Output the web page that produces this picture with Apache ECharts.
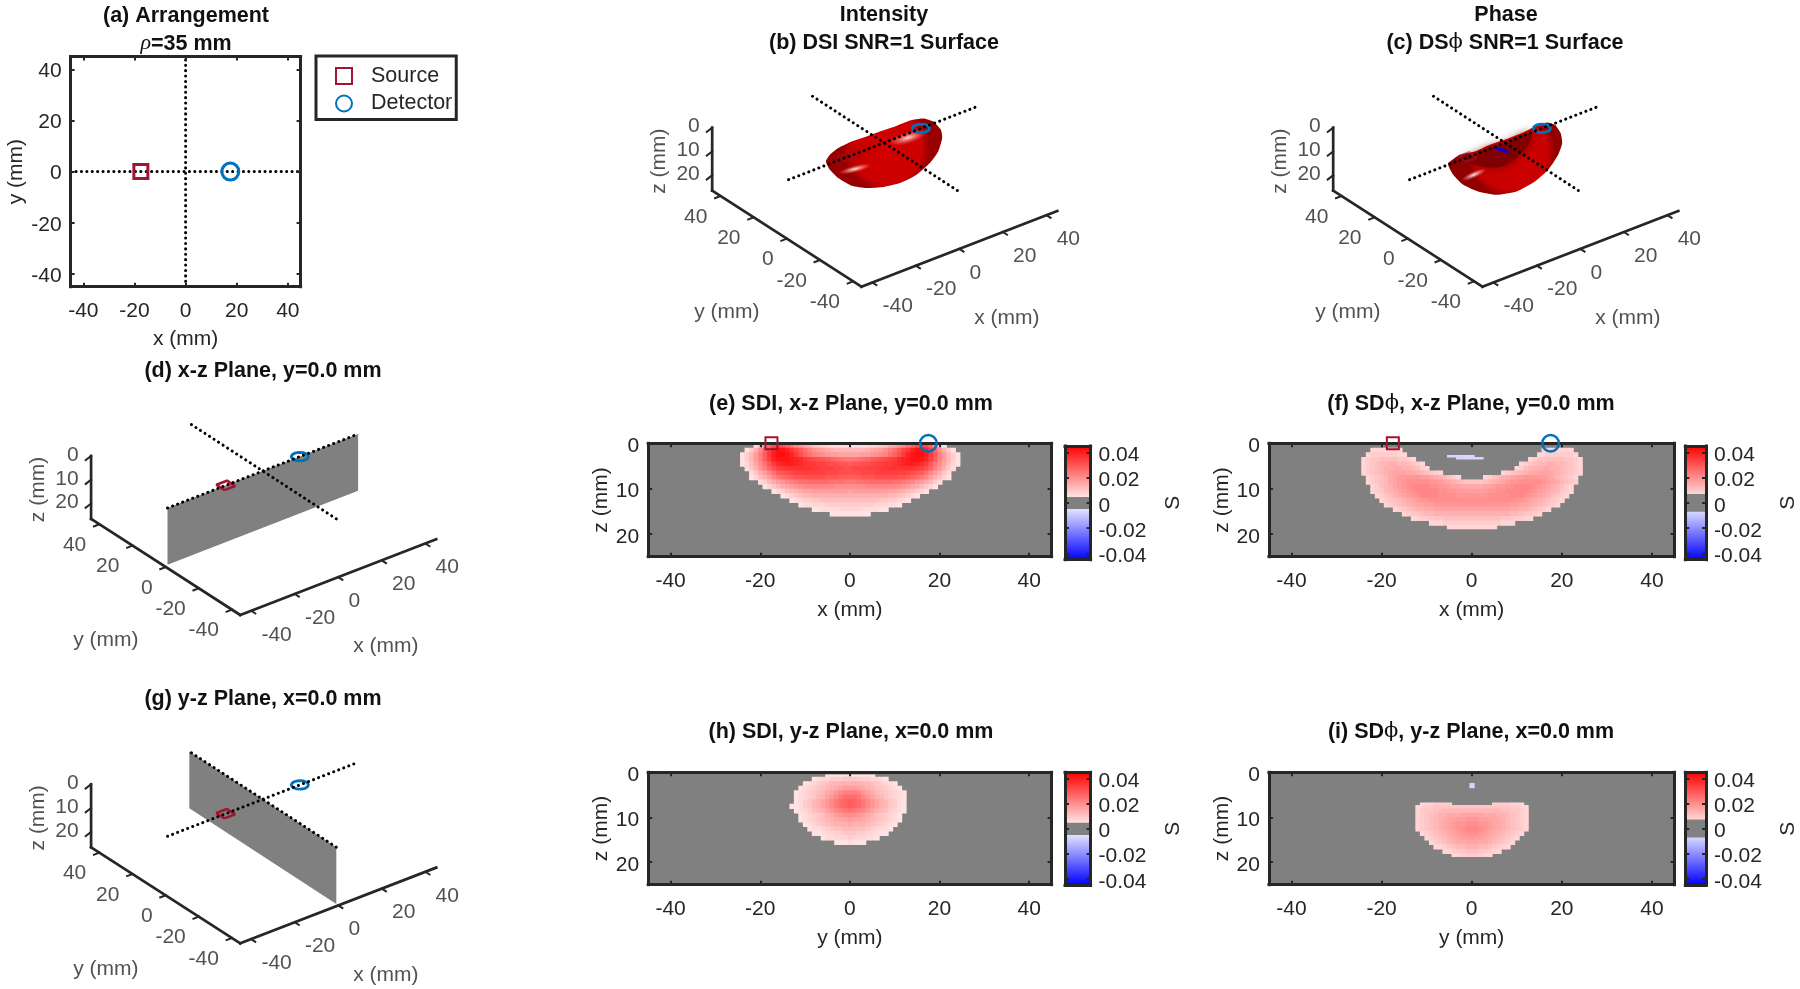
<!DOCTYPE html>
<html><head><meta charset="utf-8">
<style>html,body{margin:0;padding:0;background:#fff}#c{width:1800px;height:989px;filter:blur(0.7px)}</style>
<script src="https://cdn.jsdelivr.net/npm/echarts@6/dist/echarts.min.js"></script>
</head><body><div id="c"></div>
<script>
/* ---------- tick labels ---------- */
const planTicks = [-40, -20, 0, 20, 40];
const depthTicks = [0, 10, 20];
const barTicks = [-0.04, -0.02, 0, 0.02, 0.04];
/* ---------- geometry, mm ---------- */
const sourceX = -17.5, detectorX = 17.5;
const squareOutline = [[-2.5,-2.5],[2.5,-2.5],[2.5,2.5],[-2.5,2.5],[-2.5,-2.5]];
const circleOutline = [[3.2,0],[2.8,1.6],[1.6,2.8],[0,3.2],[-1.6,2.8],[-2.8,1.6],[-3.2,0],[-2.8,-1.6],[-1.6,-2.8],[0,-3.2],[1.6,-2.8],[2.8,-1.6],[3.2,0]];
/* ---------- sensitivity maps: [depth, first column, cell digits (base 36, unit 0.00125), row height] ---------- */
const cellUnit = 0.00125;
const mapXZIntensity = [
[0,-21,'5agmqqpmkhfdb9876555555555678'+'9bdfhkmpqqmga5'],
[1,-23,'47bgmrvxxvsqnkigedcbaaaa'+'aaabcdegiknqsvxxvrmgb74'],
[2,-24,'47aeinswyyxvspmkihgfeeddd'+'ddeefghikmpsvxyywsniea74'],
[3,-24,'47aeinrvxxxwvusrqponmlkjj'+'jklmnopqrsuvwxxxvrniea74'],
[4,-24,'469dgkosuvwwvutssrrqppoon'+'ooppqrrsstuvwwvusokgd964'],
[5,-23,'58bfimprsttttttssrrrqqpp'+'qqqrrrssttttttsrpmifb85'],
[6,-22,'58behknopqrrrrrrrqqqppp'+'ppqqqrrrrrrrqponkheb85'],
[7,-22,'469behjlmnoopppppooonnn'+'nnooopppppoonmljheb964'],
[8,-20,'57acefhijkklllllkkkjj'+'jkkklllllkkjihfeca75'],
[9,-19,'468acdefghhhhhhhgggg'+'ggghhhhhhhgfedca864'],
[10,-17,'4679abcddeeeeeeeed'+'eeeeeeeeddcba9764'],
[11,-15,'45789aabbbbbbbbb'+'bbbbbbbbaa98754'],
[12,-13,'45677889999999'+'9999998877654'],
[13,-11,'455666777777'+'77777666554'],
[14,-8,'445555666'+'66555544'],
[15,-4,'44444'+'4444']
];
const mapXZPhase = [
[1,-22,'6666666'],[1,16,'6666666'],
[2,-23,'677777766'],[2,15,'667777776'],
[3,-24,'678899998876'],[3,13,'678899998876'],
[4,-24,'6789aabbaa9876'],[4,11,'6789aabbaa9876'],
[5,-24,'6789abbccbba976'],[5,10,'679abbccbba9876'],
[6,-24,'6789abcdddccba9876'],[6,7,'6789abccdddcba9876'],
[7,-23,'6789acdeefffeedcba976'],[7,3,'679abcdeefffeedca9876'],
[8,-23,'6789acdefgggggffedcba988'+'889abcdeffgggggfedca987'],
[9,-22,'679abdefghhhhggffeddccc'+'ccddeffgghhhhgfedba976'],
[10,-22,'678abcdefghhhhhggffeeee'+'eeeffgghhhhhgfedcba876'],
[11,-21,'6789bcdefghhhhggggffff'+'fffggggghhhgfedcb9876'],
[12,-20,'6789abcdeffgggggggggg'+'gggggggggffedcba9876'],
[13,-19,'6789abcddeefffffffff'+'ffffffffeeddcba9876'],
[14,-17,'6789abbccddddddddd'+'ddddddddccbba9876'],
[15,-15,'67889aabbbbbbbbb'+'bbbbbbbbaa98876'],
[16,-13,'66778889999999'+'9999998887766'],
[17,-9,'6667777777'+'777777666'],
[18,-5,'66666666666',0.8]
];
const mapXZPhaseNegative = [[2.6,-5,'666666',0.4],[3.0,-3,'666666',0.4]];
const mapYZIntensity = [
[0.5,-5,'44444444444',0.5],
[1,-8,'45667778887776654'],
[2,-10,'456789aabbbbbaa987654'],
[3,-11,'456789abcdeeedcba987654'],
[4,-12,'456789acdfhiiihfdca987654'],
[5,-12,'45678abdfhjllljhfdba87654'],
[6,-12,'4578abdfhjlmnmljhfdba8754'],
[7,-13,'44578abdfhjlmnmljhfdba8754'],
[8,-12,'45679abdfhijkjihfdba97654'],
[9,-11,'456789bcefgggfecb987654'],
[10,-11,'456789abcddeddcba987654'],
[11,-10,'456789abbbcbbba987654'],
[12,-9,'45567899aaa99876554'],
[13,-8,'44566778887766544'],
[14,-6,'4556667666554'],
[15,-3,'4445444']
];
const mapYZPhase = [
[6.7,-11,'6667777',0.6],[6.7,5,'7777666',0.6],
[7.3,-12,'6677'+'88888888888888888'+'7766',0.7],
[8,-12,'678899aaaaaaaaaaaaa998876'],
[9,-12,'6789abbcccdddddcccbba9876'],
[10,-12,'6789abcddeefffeeddcba9876'],
[11,-12,'6789abcdeffgggffedcba9876'],
[12,-12,'6789abcdefghhhgfedcba9876'],
[13,-11,'6789abcdefgggfedcba9876'],
[14,-10,'6789abcdeefeedcba9876'],
[15,-9,'6789abccdddccba9876'],
[16,-8,'66789aabbbaa98766'],
[17,-6,'6678899988766'],
[18,-4,'667777766',0.7]
];
const mapYZPhaseNegative = [[2.4,0,'6',1]];
/* grey band of each colour bar: [lower, upper] */
const barGreyXZIntensity = [-0.0048, 0.0046];
const barGreyXZPhase = [-0.007, 0.007];
const barGreyYZIntensity = [-0.005, 0.0047];
const barGreyYZPhase = [-0.007, 0.0074];
/* SNR=1 surfaces, outline in view units around the crossing of the dotted lines */
const beanIntensity = [[-58,18.7],[-54,12],[-45.7,5.3],[-32.3,-1.3],[-17.3,-6.3],[-4,-11.3],[11,-16.3],[26,-22.3],[39.3,-24.3],[49.3,-21.3],[57,-13],[58.3,-4.7],[54.3,8.7],[46,20.3],[32.7,32],[16,40.3],[-0.7,44.3],[-17.3,45.3],[-32.3,43],[-45.7,35.3],[-54,27]];
const beanPhase = [[-56.7,20.3],[-45,12],[-30,8.7],[-15,2],[1.7,-3.7],[18.3,-10.3],[31.7,-17],[41.7,-20.3],[50,-18],[55.7,-9.7],[57.3,0.3],[53.3,12],[43.3,27],[30,38.7],[11.7,48.7],[-8.3,52],[-26.7,48.7],[-41.7,42],[-51.7,32],[-56,24.3]];
const hollowPhase = [[-41.7,17],[-30,12],[-15,5.3],[1.7,1],[18.3,-8],[26.7,-9.7],[23.3,2],[11.7,15.3],[-5,24.3],[-21.7,23.7],[-35,20.3]];

const FONT = '"Liberation Sans", Arial, sans-serif';
const TS = 21, INK = '#262626', RED = '#A2142F', BLUE = '#0072BD', GREY = '#808080';

function sColor(v){
  const t = Math.min(1, Math.abs(v) / 0.045), c = Math.round(255 * (1 - t));
  return v >= 0 ? `rgb(255,${c},${c})` : `rgb(${c},${c},255)`;
}
function cellsOf(rows, sign){
  const out = [];
  rows.forEach(r => {
    const h = r[3] === undefined ? 1 : r[3];
    [...r[2]].forEach((ch, i) => out.push([r[1] + i, r[0], h, sign * parseInt(ch, 36) * cellUnit]));
  });
  return out;
}
const option = {animation:false, backgroundColor:'#fff', title:[], grid:[], xAxis:[], yAxis:[], series:[],
  legend:{show:true, data:['Source','Detector'], orient:'vertical', left:316, top:56, selectedMode:false,
    padding:[9,4,5,19], itemWidth:16, itemHeight:16, itemGap:5.5, borderColor:INK, borderWidth:3, borderRadius:0,
    textStyle:{fontFamily:FONT, fontSize:21.5, color:INK, padding:[0,0,0,14]}}};

function addTitle(text, x, y){
  option.title.push({text, left:x, top:y+1, textAlign:'center', textVerticalAlign:'middle', padding:0,
    textStyle:{fontFamily:FONT, fontSize:21.5, fontWeight:'bold', color:'#111',
      rich:{g:{fontFamily:'"Liberation Serif",serif', fontStyle:'italic', fontWeight:'normal', fontSize:22, color:'#111'},
            p:{fontFamily:'"DejaVu Serif",serif', fontWeight:'normal', fontSize:21, color:'#111'}}}});
}
[['(a) Arrangement',186,15],['{g|ρ}=35 mm',186,42.7],['Intensity',884,14.3],['(b) DSI SNR=1 Surface',884,41.7],
 ['Phase',1506,14.3],['(c) DS{p|ϕ} SNR=1 Surface',1505,41.7],['(d) x-z Plane, y=0.0 mm',263,370],
 ['(e) SDI, x-z Plane, y=0.0 mm',851,402.7],['(f) SD{p|ϕ}, x-z Plane, y=0.0 mm',1471,402.7],
 ['(g) y-z Plane, x=0.0 mm',263,698.3],['(h) SDI, y-z Plane, x=0.0 mm',851,730.7],['(i) SD{p|ϕ}, y-z Plane, x=0.0 mm',1471,730.7]
].forEach(t => addTitle(t[0], t[1], t[2]));

const boxLine = {show:true, onZero:false, lineStyle:{color:INK, width:3, cap:'square'}};
function boxedGrid(o){
  const g = option.grid.length;
  option.grid.push({left:o.left, top:o.top, width:o.right-o.left, height:o.bottom-o.top,
    show:!!o.bg, backgroundColor:o.bg||'transparent', borderWidth:0});
  const lab = {fontFamily:FONT, fontSize:TS, color:INK};
  const xi = option.xAxis.length, yi = option.yAxis.length;
  const tick = v => ({show:!!v, inside:true, length:4, customValues:v||[], lineStyle:{color:INK, width:2}});
  const drop = o.drop || 4;
  option.xAxis.push(
    {gridIndex:g, type:'value', min:o.xMin, max:o.xMax, position:'bottom', z:10, splitLine:{show:false}, axisLine:boxLine,
     axisTick:tick(o.xTicks), axisLabel:{show:!!o.xTicks, customValues:o.xTicks||[], margin:14, ...lab},
     name:o.xName, nameLocation:'middle', nameGap:o.xGap||40, nameTextStyle:lab},
    {gridIndex:g, type:'value', min:o.xMin, max:o.xMax, position:'top', z:10, splitLine:{show:false}, axisLine:boxLine,
     axisTick:tick(o.xTicks), axisLabel:{show:false}});
  option.yAxis.push(
    {gridIndex:g, type:'value', min:o.yMin, max:o.yMax, inverse:!!o.inv, position:'left', z:10, splitLine:{show:false}, axisLine:boxLine,
     axisTick:tick(o.yTicks), axisLabel:{show:!!o.yTicks&&!o.bar, customValues:o.yTicks||[], margin:9, verticalAlign:'top', lineHeight:drop, ...lab},
     name:o.yName, nameLocation:'middle', nameGap:o.yGap||38, nameTextStyle:lab},
    {gridIndex:g, type:'value', min:o.yMin, max:o.yMax, inverse:!!o.inv, position:'right', z:10, splitLine:{show:false}, axisLine:boxLine,
     axisTick:tick(o.yTicks), axisLabel:{show:!!o.bar, customValues:o.yTicks||[], margin:8, verticalAlign:'top', lineHeight:drop, ...lab},
     name:o.bar?'S':'', nameLocation:'middle', nameGap:72, nameRotate:90, nameTextStyle:lab});
  return {xAxisIndex:xi, yAxisIndex:yi};
}
function cellSeries(ax, cells){
  return {type:'custom', ...ax, silent:true, z:3, clip:true, progressive:0, encode:{x:0,y:1}, data:cells,
    renderItem:(p, api) => {
      const x = api.value(0), z = api.value(1), h = api.value(2), v = api.value(3);
      const a = api.coord([x-0.5, z]), b = api.coord([x+0.5, z+h]);
      return {type:'rect', shape:{x:a[0], y:a[1], width:b[0]-a[0]+0.7, height:b[1]-a[1]+0.7}, style:{fill:sColor(v)}};
    }};
}
function markerSeries(ax, name, x, y, shape, size, color, w){
  return {type:'scatter', name, ...ax, z:20, clip:false, silent:true, symbol:shape, symbolSize:size,
    data:[[x,y]], itemStyle:{color:'rgba(255,255,255,0)', borderColor:color, borderWidth:w, opacity:1}};
}
/* ---- (a) ---- */
const axA = boxedGrid({left:70.6,right:300.6,top:56.5,bottom:286.7,xMin:-45,xMax:45,yMin:-45,yMax:45,xTicks:planTicks,yTicks:planTicks,xName:'x (mm)',yName:'y (mm)',xGap:42.5,yGap:44,drop:4});
const dotted = {color:'#000', width:3, type:[0.1,5.3], cap:'round'};
option.series.push(
  {type:'line',...axA,symbol:'none',silent:true,z:6,lineStyle:dotted,data:[[-45,0],[45,0]]},
  {type:'line',...axA,symbol:'none',silent:true,z:6,lineStyle:dotted,data:[[0,-45],[0,45]]},
  markerSeries(axA,'Source',sourceX,0,'rect',14,RED,3),
  markerSeries(axA,'Detector',detectorX,0,'circle',17,BLUE,3));

/* ---- slices and colour bars ---- */
[
 {l:648.2,r:1051.6,t:443.3,b:556.7,bl:1065,br:1090.6,bt:446,bb:559.7,xn:'x (mm)',m:mapXZIntensity,grey:barGreyXZIntensity,mark:true},
 {l:1268.9,r:1674.5,t:443.3,b:556.7,bl:1685.3,br:1710.9,bt:446,bb:559.7,xn:'x (mm)',m:mapXZPhase,neg:mapXZPhaseNegative,grey:barGreyXZPhase,mark:true},
 {l:648.2,r:1051.6,t:772.3,b:884.7,bl:1065,br:1090.6,bt:772.3,bb:885,xn:'y (mm)',m:mapYZIntensity,grey:barGreyYZIntensity},
 {l:1268.9,r:1674.5,t:772.3,b:884.7,bl:1685.3,br:1710.9,bt:772.3,bb:885,xn:'y (mm)',m:mapYZPhase,neg:mapYZPhaseNegative,grey:barGreyYZPhase}
].forEach(p => {
  const ax = boxedGrid({left:p.l,right:p.r,top:p.t,bottom:p.b,xMin:-45,xMax:45,yMin:0,yMax:25,inv:true,bg:GREY,
    xTicks:planTicks,yTicks:depthTicks,xName:p.xn,yName:'z (mm)',xGap:43.5,yGap:36,drop:6});
  option.series.push(cellSeries(ax, cellsOf(p.m, 1)));
  if (p.neg) option.series.push(cellSeries(ax, cellsOf(p.neg, -1)));
  if (p.mark) option.series.push(
    markerSeries(ax,'',sourceX,0,'rect',12,RED,2),
    markerSeries(ax,'',detectorX,0,'circle',16.5,BLUE,2.5));
  const bx = boxedGrid({left:p.bl,right:p.br,top:p.bt,bottom:p.bb,xMin:0,xMax:1,yMin:-0.045,yMax:0.045,bg:GREY,yTicks:barTicks,bar:true,drop:6});
  option.series.push({type:'custom',...bx,silent:true,z:3,encode:{x:0,y:1},
    data:[[0,p.grey[1],0.045],[0,-0.045,p.grey[0]]],
    renderItem:(q, api) => {
      const lo = api.value(1), hi = api.value(2);
      const a = api.coord([0,hi]), b = api.coord([1,lo]);
      return {type:'rect',shape:{x:a[0],y:a[1],width:b[0]-a[0],height:b[1]-a[1]},
        style:{fill:{type:'linear',x:0,y:0,x2:0,y2:1,colorStops:[{offset:0,color:sColor(hi)},{offset:1,color:sColor(lo)}]}}};
    }});
});

/* ---- 3D views (orthographic projection onto hidden value axes, one unit per pixel) ---- */
const EX=[2.177,-0.841], EY=[-1.658,-1.067], EZ=2.52, EZT=2.38; // axes frame, per mm (EZT: z tick spacing)
const FX=[2.118,-0.822], FY=[-1.633,-1.063], FZ=2.27, C0=[22.5,-144]; // floor and content
const projAxis=(x,y,z)=>[(x+45)*EX[0]+(y+45)*EY[0],(x+45)*EX[1]+(y+45)*EY[1]+(z-25)*EZ];
const projDepthTick=(z,dx)=>{const p=projAxis(-45+dx,45,0);return [p[0],p[1]+z*EZT+(dx?-dx*EX[1]*-1:0)];};
const projFloor=(x,y,z)=>[C0[0]+x*FX[0]+y*FY[0],C0[1]+x*FX[1]+y*FY[1]+z*FZ];
function labels(ax, pts, o){
  return {type:'scatter',...ax,silent:true,z:8,clip:false,symbol:'circle',symbolSize:1,itemStyle:{color:'rgba(255,255,255,0)'},
    data:pts.map(p=>({value:[p.at[0]+o.offset[0],p.at[1]+o.offset[1]],name:p.t})),
    label:{show:true,position:[0,0],formatter:'{b}',fontFamily:FONT,fontSize:TS,color:INK,verticalAlign:'middle',align:o.align,rotate:o.rotate||0}};
}
function view3D(v){
  const g = option.grid.length, L=v.rect[0],T=v.rect[1],W=v.rect[2],H=v.rect[3];
  option.grid.push({left:L,top:T,width:W,height:H,show:false});
  const xi=option.xAxis.length, yi=option.yAxis.length, ax={xAxisIndex:xi,yAxisIndex:yi};
  option.xAxis.push({gridIndex:g,type:'value',show:false,min:L-v.corner[0],max:L+W-v.corner[0]});
  option.yAxis.push({gridIndex:g,type:'value',show:false,inverse:true,min:T-v.corner[1],max:T+H-v.corner[1]});
  const S=option.series;
  const poly=(pts,style,z)=>({type:'custom',...ax,silent:true,z:z||3,encode:{x:0,y:1},data:[[pts[0][0],pts[0][1]]],
    renderItem:(p,api)=>({type:'polygon',shape:{points:pts.map(q=>api.coord(q)),smooth:style.smooth||0},style:style.style})});
  /* soft spot: a circle of radius ry stretched to rx so the radial gradient stretches with it */
  const spot=(cu,cv,rx,ry,rot,style,z)=>({type:'custom',...ax,silent:true,z:z||3,encode:{x:0,y:1},data:[[C0[0]+cu,C0[1]+cv]],
    renderItem:(p,api)=>{const c=api.coord([C0[0]+cu,C0[1]+cv]);return {type:'circle',x:c[0],y:c[1],rotation:-rot*Math.PI/180,scaleX:rx/ry,scaleY:1,shape:{cx:0,cy:0,r:ry},style};}});
  const off=a=>a.map(q=>[C0[0]+q[0],C0[1]+q[1]]);
  const glow=(c,e)=>({fill:{type:'radial',x:0.5,y:0.5,r:0.5,colorStops:[{offset:0,color:c},{offset:1,color:e}]}});
  if(v.plane) S.push(poly(v.plane.map(q=>projFloor(q[0],q[1],q[2])),{style:{fill:'#808080'}}));
  if(v.bean==='I'){
    S.push(poly(off(beanIntensity),{smooth:0.18,style:{fill:{type:'radial',x:0.52,y:0.42,r:0.62,colorStops:[{offset:0,color:'#d40000'},{offset:0.82,color:'#cc0000'},{offset:1,color:'#980000'}]}}}));
    S.push(spot(-29,12,30,12,-18,glow('rgba(165,0,0,0.5)','rgba(165,0,0,0)'),3));
    S.push(spot(24,-5,20,6,-16,glow('rgba(255,225,225,0.95)','rgba(255,120,120,0)'),4));
    S.push(spot(-29,26.3,17,3.6,-14,glow('rgba(255,235,235,1)','rgba(255,120,120,0)'),4));
  }
  if(v.bean==='P'){
    S.push(poly(off(beanPhase),{smooth:0.18,style:{fill:{type:'radial',x:0.55,y:0.42,r:0.62,colorStops:[{offset:0,color:'#d00000'},{offset:0.82,color:'#c80000'},{offset:1,color:'#900000'}]}}}));
    S.push(poly(off(hollowPhase),{smooth:0.25,style:{fill:'#7e0000',shadowBlur:10,shadowColor:'#7e0000'}},3));
    S.push(spot(-31,32,14,3.5,-24,glow('rgba(255,240,240,1)','rgba(255,120,120,0)'),4));
    S.push(spot(-3,7.3,8,1.7,15,{fill:'#1400c8'},5));
  }
  /* frame */
  const segs=[];
  segs.push([projAxis(-45,-45,25),projAxis(45,-45,25),2.7],[projAxis(-45,-45,25),projAxis(-45,45,25),2.7],[projAxis(-45,45,25),projAxis(-45,45,0),2.7]);
  planTicks.forEach(t=>{segs.push([projAxis(t,-45,25),projAxis(t,-47.5,25),2],[projAxis(-45,t,25),projAxis(-47.5,t,25),2]);});
  depthTicks.forEach(t=>segs.push([projDepthTick(t,0),projDepthTick(t,-2.5),2]));
  S.push({type:'custom',...ax,silent:true,z:5,encode:{x:0,y:1},data:segs.map(s=>[s[0][0],s[0][1]]),
    renderItem:(p,api)=>{const s=segs[p.dataIndex],a=api.coord(s[0]),b=api.coord(s[1]);
      return {type:'line',shape:{x1:a[0],y1:a[1],x2:b[0],y2:b[1]},style:{stroke:INK,lineWidth:s[2],lineCap:'square'}};}});
  S.push(labels(ax,planTicks.map(t=>({at:projAxis(t,-45,25),t:String(t)})),{align:'left',offset:[10.7,24.5]}));
  S.push(labels(ax,planTicks.map(t=>({at:projAxis(-45,t,25),t:String(t)})),{align:'right',offset:[-12.6,21.3]}));
  S.push(labels(ax,depthTicks.map(t=>({at:projDepthTick(t,0),t:String(t)})),{align:'right',offset:[-11.9,-0.5]}));
  S.push(labels(ax,[{at:[0,0],t:'x (mm)'}],{align:'center',offset:[146,32]}));
  S.push(labels(ax,[{at:[0,0],t:'y (mm)'}],{align:'center',offset:[-134,26]}));
  S.push(labels(ax,[{at:[0,0],t:'z (mm)'}],{align:'center',offset:[-202,-125],rotate:90}));
  /* dotted centre lines and optode outlines, on the z=0 floor */
  const dot={type:'line',...ax,symbol:'none',silent:true,z:7,lineStyle:dotted};
  S.push({...dot,data:[projFloor(-45,0,0),projFloor(45,0,0)]});
  S.push({...dot,data:[projFloor(0,-45,0),projFloor(0,45,0)]});
  S.push({type:'line',...ax,symbol:'none',silent:true,z:6,lineStyle:{color:RED,width:2.6,opacity:v.srcAlpha},data:squareOutline.map(q=>projFloor(sourceX+q[0],q[1],0))});
  S.push({type:'line',...ax,symbol:'none',silent:true,z:6,lineStyle:{color:BLUE,width:2.8},data:circleOutline.map(q=>projFloor(detectorX+q[0],q[1],0))});
}
view3D({corner:[861.4,286.7],rect:[640,70,480,285],bean:'I',srcAlpha:0.35});
view3D({corner:[1482.4,286.7],rect:[1260,70,480,285],bean:'P',srcAlpha:0.5});
view3D({corner:[240.3,615],rect:[20,400,440,260],plane:[[-45,0,0],[45,0,0],[45,0,25],[-45,0,25]],srcAlpha:1});
view3D({corner:[240.3,943.3],rect:[20,725,440,260],plane:[[0,45,0],[0,-45,0],[0,-45,25],[0,45,25]],srcAlpha:1});

const chart = echarts.init(document.getElementById('c'), null, {renderer:'canvas', width:1800, height:989});
chart.setOption(option);
</script></body></html>
